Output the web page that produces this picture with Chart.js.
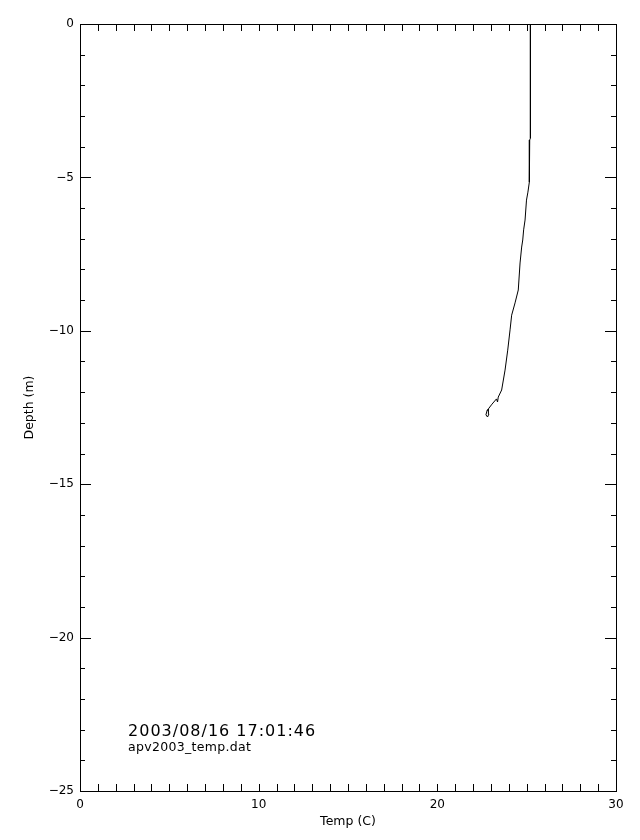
<!DOCTYPE html>
<html>
<head>
<meta charset="utf-8">
<script src="https://cdn.jsdelivr.net/npm/chart.js@4/dist/chart.umd.min.js"></script>
<style>
  html, body { margin: 0; padding: 0; background: #fff; }
  #wrap { width: 640px; height: 840px; }
</style>
</head>
<body>
<div id="wrap"><canvas id="c" width="640" height="840"></canvas></div>
<script>
// Temperature profile
const temps  = [25.21, 25.21, 25.17, 25.15, 25.07, 24.99, 24.91, 24.83, 24.78, 24.72, 24.63, 24.53, 24.35, 24.16, 24.07, 23.94, 23.79, 23.60, 23.41, 23.37, 23.31, 23.06, 22.89, 22.78, 22.72, 22.81, 22.89, 22.86, 22.78];
const depths = [0.00, -3.72, -3.78, -5.15, -5.48, -5.74, -6.39, -6.71, -7.04, -7.27, -7.79, -8.67, -9.09, -9.49, -9.97, -10.63, -11.28, -11.93, -12.16, -12.32, -12.22, -12.39, -12.52, -12.61, -12.74, -12.81, -12.71, -12.55, -12.61];

const xMajorTicks = [0, 10, 20, 30];
const yMajorTicks = [0, -5, -10, -15, -20, -25];
const stampLines = ["2003/08/16 17:01:46", "apv2003_temp.dat"];

const points = temps.map((t, i) => ({ x: t, y: depths[i] }));

const tickPlugin = {
  id: 'idlTicks',
  afterDraw(chart) {
    const ctx = chart.ctx;
    const a = chart.chartArea;
    const xs = chart.scales.x, ys = chart.scales.y;
    ctx.save();
    ctx.strokeStyle = '#000';
    ctx.lineWidth = 1;
    // box
    ctx.strokeRect(Math.round(a.left) + 0.5, Math.round(a.top) + 0.5,
                   Math.round(a.right - a.left), Math.round(a.bottom - a.top));
    ctx.beginPath();
    xs.ticks.forEach(t => {
      const px = Math.round(xs.getPixelForValue(t.value)) + 0.5;
      const len = 7;
      ctx.moveTo(px, a.bottom); ctx.lineTo(px, a.bottom - len);
      ctx.moveTo(px, a.top); ctx.lineTo(px, a.top + len);
    });
    ys.ticks.forEach(t => {
      const py = Math.round(ys.getPixelForValue(t.value)) + 0.5;
      const len = yMajorTicks.includes(t.value) ? 11 : 5;
      ctx.moveTo(a.left, py); ctx.lineTo(a.left + len, py);
      ctx.moveTo(a.right, py); ctx.lineTo(a.right - len, py);
    });
    ctx.stroke();
    // date stamp
    ctx.fillStyle = '#000';
    ctx.textAlign = 'left';
    ctx.textBaseline = 'alphabetic';
    const sx = xs.getPixelForValue(2.69);
    ctx.font = '16px "DejaVu Sans"';
    ctx.letterSpacing = '1px';
    ctx.fillText(stampLines[0], sx, ys.getPixelForValue(-23.2));
    ctx.font = '12.5px "DejaVu Sans"';
    ctx.letterSpacing = '0.3px';
    ctx.fillText(stampLines[1], sx, ys.getPixelForValue(-23.68));
    ctx.restore();
  }
};

new Chart(document.getElementById('c'), {
  type: 'scatter',
  data: {
    datasets: [{
      data: points,
      showLine: true,
      borderColor: '#000',
      borderWidth: 1,
      pointRadius: 0,
      tension: 0,
      fill: false
    }]
  },
  options: {
    responsive: false,
    animation: false,
    devicePixelRatio: 1,
    layout: { padding: { top: 24, right: 24, left: 0, bottom: 0 } },
    plugins: { legend: { display: false }, tooltip: { enabled: false } },
    scales: {
      x: {
        type: 'linear', min: 0, max: 30,
        ticks: {
          stepSize: 1, autoSkip: false, maxRotation: 0,
          padding: 7, color: '#000',
          font: { family: 'DejaVu Sans', size: 12 },
          callback: v => (xMajorTicks.includes(v) ? String(v) : '')
        },
        grid: { display: false, drawTicks: false },
        border: { display: false },
        title: { display: true, text: 'Temp (C)', color: '#000',
                 font: { family: 'DejaVu Sans', size: 12.5 },
                 padding: { top: 4, bottom: 11 } },
        afterFit: s => { s.height = 49; }
      },
      y: {
        type: 'linear', min: -25, max: 0,
        ticks: {
          stepSize: 1, autoSkip: false, padding: 6, color: '#000',
          font: { family: 'DejaVu Sans', size: 12 },
          callback: v => (yMajorTicks.includes(v) ? (v < 0 ? '\u2212' + Math.abs(v) : String(v)) : '')
        },
        grid: { display: false, drawTicks: false },
        border: { display: false },
        title: { display: true, text: 'Depth (m)', color: '#000',
                 font: { family: 'DejaVu Sans', size: 12.5 },
                 padding: { top: 22, bottom: 4 } },
        afterFit: s => { s.width = 80; }
      }
    }
  },
  plugins: [tickPlugin]
});
</script>
</body>
</html>
